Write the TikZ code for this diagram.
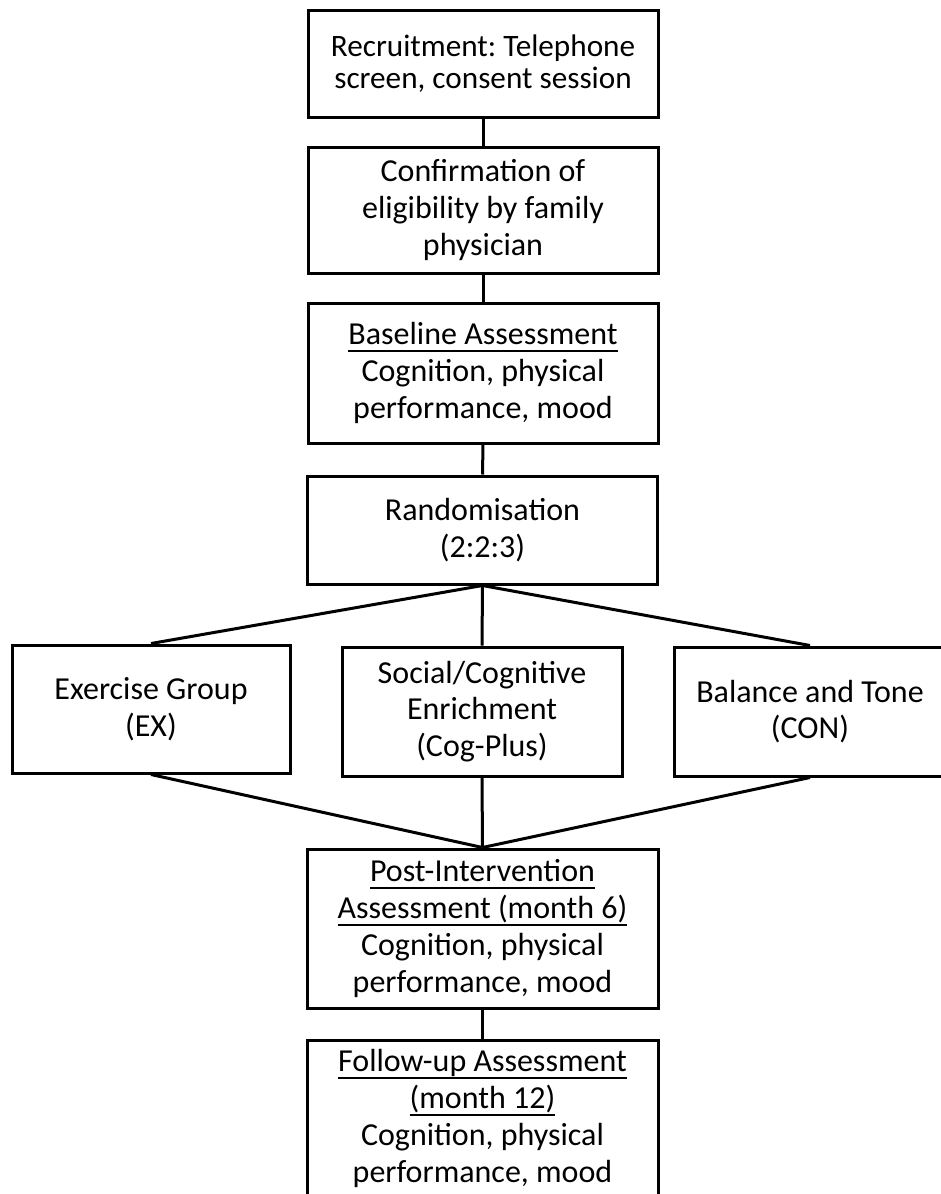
\documentclass[tikz,border=0pt]{standalone}
\usepackage{fontspec}
\setmainfont{Carlito}
\newsavebox\myulbox
\newcommand\myul[1]{\sbox\myulbox{#1}\rlap{\rule[-7pt]{\wd\myulbox}{2pt}}\usebox\myulbox}
\begin{document}
\frenchspacing
\begin{tikzpicture}[x=1pt,y=-1pt,
  box/.style={draw=black, line width=3pt, fill=white, inner sep=0pt, align=center,
    font=\fontsize{32}{36.8}\selectfont},
  link/.style={draw=black, line width=3pt}]
\useasboundingbox (0,0) rectangle (941,1194);
\clip (0,0) rectangle (941,1194);
\node[box, minimum width=350, minimum height=107, font=\fontsize{31.2}{32.5}\selectfont] (rec) at (483,63.5)
  {Recruitment: Telephone\\screen, consent session};
\node[box, minimum width=350, minimum height=126] (conf) at (483,210)
  {Confirmation of\\eligibility by family\\physician};
\node[box, minimum width=350, minimum height=140] (base) at (483,373)
  {\myul{Baseline Assessment}\\Cognition, physical\\performance, mood};
\node[box, minimum width=350, minimum height=108] (rand) at (482.5,530)
  {Randomisation\\(2:2:3)};
\node[box, minimum width=278, minimum height=128] (ex) at (151,709)
  {Exercise Group\\(EX)};
\node[box, minimum width=280, minimum height=129] (cog) at (482,711.5)
  {Social/Cognitive\\Enrichment\\(Cog-Plus)};
\node[box, minimum width=272, minimum height=129] (con) at (810,711.5)
  {Balance and Tone\\(CON)};
\node[box, minimum width=351, minimum height=159] (post) at (482.5,928.5)
  {\myul{Post-Intervention}\\\myul{Assessment (month 6)}\\Cognition, physical\\performance, mood};
\node[box, minimum width=351, minimum height=157] (foll) at (482.5,1118.5)
  {\myul{Follow-up Assessment}\\\myul{(month 12)}\\Cognition, physical\\performance, mood};
\draw[link] (rec.south) -- (conf.north);
\draw[link] (conf.south) -- (base.north);
\draw[link] (base.south) -- (rand.north);
\draw[link] (rand.south) -- (ex.north);
\draw[link] (rand.south) -- (cog.north);
\draw[link] (rand.south) -- (con.north);
\draw[link] (ex.south) -- (post.north);
\draw[link] (cog.south) -- (post.north);
\draw[link] (con.south) -- (post.north);
\draw[link] (post.south) -- (foll.north);
\end{tikzpicture}
\end{document}
